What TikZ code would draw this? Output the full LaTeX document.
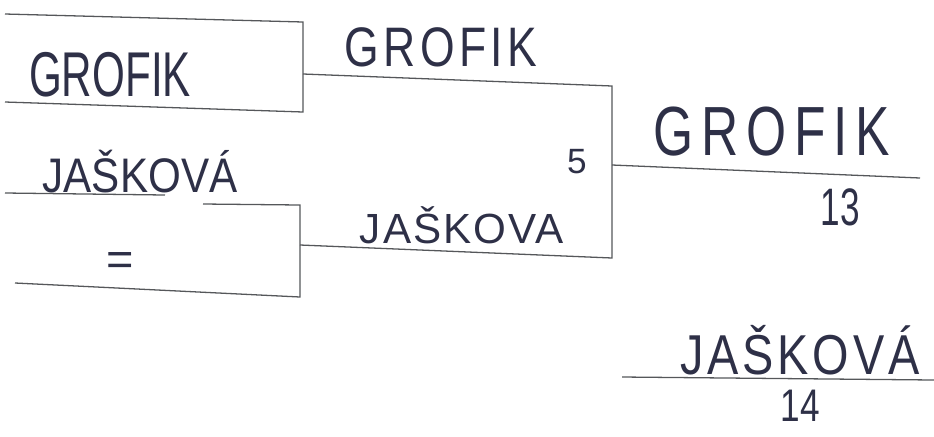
\documentclass[tikz,border=0pt]{standalone}
\usepackage{fontspec}
\setmainfont{Liberation Sans}
\usetikzlibrary{positioning}
\definecolor{Ink}{HTML}{2E3047}
\definecolor{Pencil}{HTML}{55575A}
\newcommand{\tallby}[2]{\scalebox{1}[#1]{#2}}

\begin{document}
\begin{tikzpicture}[x=0.03cm, y=-0.03cm,
    hand/.style={text=Ink, inner sep=0pt, font=\fontsize{36}{40}\selectfont},
    line/.style={draw=Pencil, line width=1.1pt}]
    \useasboundingbox (0,0) rectangle (934,436);
    % first round
    \coordinate (a1) at (5,14);   \coordinate (a2) at (303,22);
    \coordinate (a3) at (303,112); \coordinate (a4) at (5,102);
    \coordinate (am) at (303,74);
    \coordinate (b1) at (5,193);  \coordinate (b1e) at (165,195);
    \coordinate (b2s) at (203,204); \coordinate (b2) at (300,205);
    \coordinate (b3) at (300,297); \coordinate (b4) at (15,283);
    \coordinate (bm) at (300,245);
    % second round
    \coordinate (c1) at (612,86); \coordinate (c2) at (612,258);
    \coordinate (cm) at (612,165);
    % final
    \coordinate (f1) at (920,178);
    \coordinate (t1) at (622,377); \coordinate (t2) at (934,380);

    \draw[line] (a1) -- (a2) -- (a3) -- (a4);
    \draw[line] (b1) -- (b1e);
    \draw[line] (b2s) -- (b2) -- (b3) -- (b4);
    \draw[line] (am) -- (c1) -- (c2) -- (bm);
    \draw[line] (cm) -- (f1);
    \draw[line] (t1) -- (t2);

    \node[hand] (g1) at (110,75) {\tallby{1.5}{GROFIK}};
    \node[hand] (j1) at (140,172) {\tallby{1.15}{JAŠKOVÁ}};
    \node[hand, font=\fontsize{40}{44}\selectfont] (eq) at (120,264) {=};
    \node[hand, font=\fontsize{38}{40}\selectfont\addfontfeature{LetterSpace=10}] (g2) at (441,47) {\tallby{1.25}{GROFIK}};
    \node[hand, font=\fontsize{30}{34}\selectfont] (five) at (577,162) {5};
    \node[hand, font=\fontsize{36}{40}\selectfont\addfontfeature{LetterSpace=5}] (j2) at (462,225) {JAŠKOVA};
    \node[hand, font=\fontsize{44}{48}\selectfont\addfontfeature{LetterSpace=15}] (g3) at (772,132) {\tallby{1.35}{GROFIK}};
    \node[hand, font=\fontsize{30}{34}\selectfont] (n13) at (840,207) {\tallby{1.5}{13}};
    \node[hand, font=\fontsize{40}{44}\selectfont\addfontfeature{LetterSpace=8}] (j3) at (800,350) {\tallby{1.2}{JAŠKOVÁ}};
    \node[hand, font=\fontsize{30}{34}\selectfont] (n14) at (800,406) {\tallby{1.3}{14}};
\end{tikzpicture}
\end{document}
